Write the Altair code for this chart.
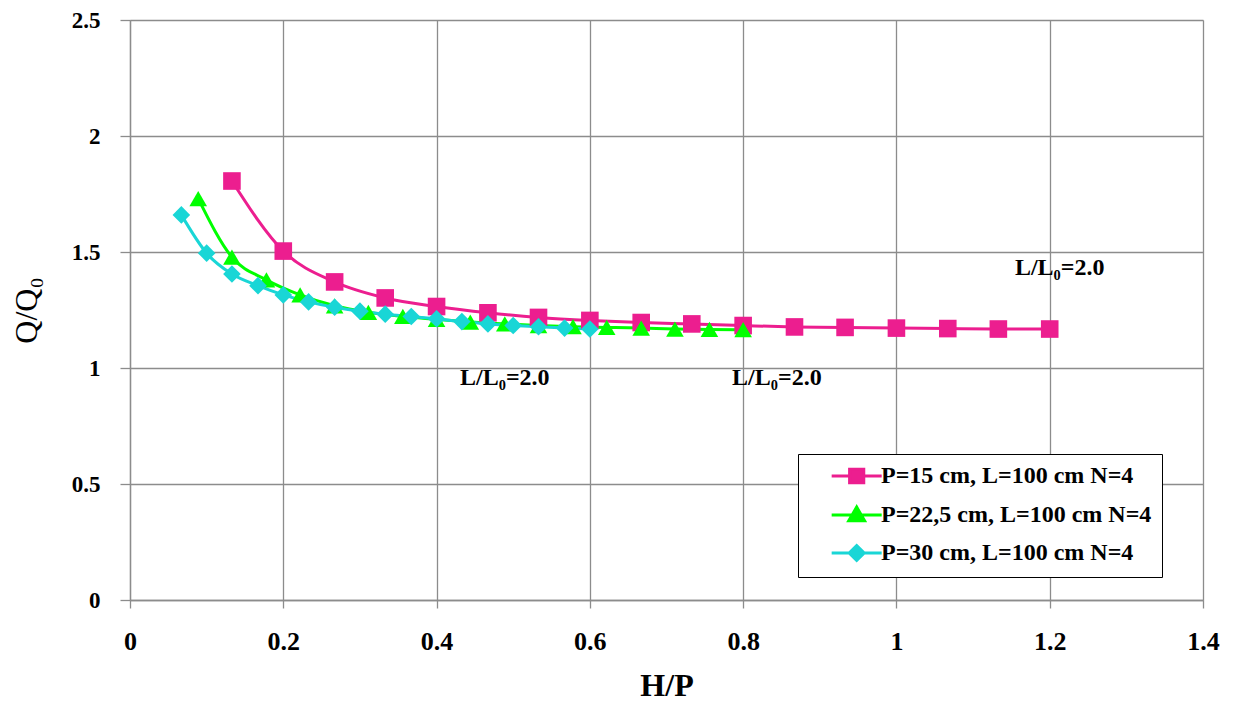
import altair as alt
import pandas as pd

series_names = ["P=15 cm, L=100 cm N=4", "P=22,5 cm, L=100 cm N=4", "P=30 cm, L=100 cm N=4"]
colors = ["#EC1E8F", "#00FF00", "#19D6D6"]
shapes = ["square", "triangle-up", "diamond"]

hp_15 = [0.133, 0.2, 0.267, 0.333, 0.4, 0.467, 0.533, 0.6, 0.667, 0.733, 0.8, 0.867, 0.933, 1.0, 1.067, 1.133, 1.2]
q_15 = [1.806, 1.504, 1.371, 1.302, 1.265, 1.238, 1.218, 1.205, 1.196, 1.19, 1.183, 1.177, 1.175, 1.172, 1.17, 1.168, 1.168]

hp_225 = [0.089, 0.133, 0.178, 0.222, 0.267, 0.311, 0.356, 0.4, 0.444, 0.489, 0.533, 0.578, 0.622, 0.667, 0.711, 0.756, 0.8]
q_225 = [1.73, 1.478, 1.38, 1.315, 1.268, 1.24, 1.222, 1.21, 1.198, 1.19, 1.183, 1.178, 1.175, 1.172, 1.168, 1.166, 1.165]

hp_30 = [0.067, 0.1, 0.133, 0.167, 0.2, 0.233, 0.267, 0.3, 0.333, 0.367, 0.4, 0.433, 0.467, 0.5, 0.533, 0.567, 0.6]
q_30 = [1.66, 1.495, 1.405, 1.355, 1.315, 1.285, 1.262, 1.245, 1.232, 1.222, 1.212, 1.2, 1.19, 1.183, 1.178, 1.172, 1.168]

note_text = ["L/L₀=2.0", "L/L₀=2.0", "L/L₀=2.0"]
note_x = [0.489, 0.844, 1.213]
note_y = [0.957, 0.957, 1.431]

x_ticks = [0, 0.2, 0.4, 0.6, 0.8, 1.0, 1.2, 1.4]
y_ticks = [0, 0.5, 1, 1.5, 2, 2.5]

rows = []
for name, xs, ys in zip(series_names, [hp_15, hp_225, hp_30], [q_15, q_225, q_30]):
    for xv, yv in zip(xs, ys):
        rows.append({"series": name, "hp": xv, "q": yv})
df = pd.DataFrame(rows)
notes = pd.DataFrame({"label": note_text, "hp": note_x, "q": note_y})

FONT = "Liberation Serif"
GRID = "#8c8c8c"

xenc = alt.X("hp:Q", scale=alt.Scale(domain=[0, 1.4], nice=False),
             axis=alt.Axis(values=x_ticks, format="~g", title="H/P", grid=True,
                           gridColor=GRID, gridWidth=1.3, domainColor=GRID, domainWidth=1.3,
                           tickColor=GRID, tickSize=8, tickWidth=1.3,
                           labelFont=FONT, labelFontWeight="bold", labelFontSize=26,
                           labelColor="black", labelPadding=20, labelFlush=False,
                           titleFont=FONT, titleFontWeight="bold", titleFontSize=32,
                           titleColor="black", titlePadding=16))
yenc = alt.Y("q:Q", scale=alt.Scale(domain=[0, 2.5], nice=False),
             axis=alt.Axis(values=y_ticks, format="~g", title="Q/Q₀", grid=True,
                           gridColor=GRID, gridWidth=1.3, domainColor=GRID, domainWidth=1.3,
                           tickColor=GRID, tickSize=10, tickWidth=1.3,
                           labelFont=FONT, labelFontWeight="bold", labelFontSize=23,
                           labelColor="black", labelPadding=20, labelFlush=False,
                           titleFont=FONT, titleFontWeight="normal", titleFontSize=32,
                           titleColor="black", titlePadding=28))

layers = []
for name, col, shp in zip(series_names, colors, shapes):
    sub = df[df["series"] == name]
    layers.append(alt.Chart(sub).mark_line(interpolate="monotone", strokeWidth=3, color=col)
                  .encode(x=xenc, y=yenc))
for name, col, shp in zip(series_names, colors, shapes):
    sub = df[df["series"] == name]
    layers.append(alt.Chart(sub).mark_point(filled=True, opacity=1, size=310, color=col, shape=shp)
                  .encode(x=xenc, y=yenc))

leg_paths = [
    "M-1,0H5M1.15,-0.8H2.85V0.8H1.15Z",
    "M-1,0H5M2,-0.95L2.95,0.7H1.05Z",
    "M-1,0H5M2,-0.9L2.9,0L2,0.9L1.1,0Z",
]
leg = alt.Legend(orient="none", legendX=668, legendY=434, padding=10, symbolOffset=20,
                 labelOffset=29, symbolSize=278, symbolStrokeWidth=3, rowPadding=12,
                 labelFont=FONT, labelFontWeight="bold", labelFontSize=24, labelColor="black",
                 strokeColor="black", fillColor="white", labelLimit=400)
legend_layer = alt.Chart(df).transform_filter("datum.q < 0").mark_point(
    size=278, strokeWidth=3, opacity=1, fillOpacity=1, strokeOpacity=1).encode(
    x=xenc, y=yenc,
    fill=alt.Fill("series:N", scale=alt.Scale(domain=series_names, range=colors), legend=leg, title=None),
    stroke=alt.Stroke("series:N", scale=alt.Scale(domain=series_names, range=colors), legend=leg, title=None),
    shape=alt.Shape("series:N", scale=alt.Scale(domain=series_names, range=leg_paths), legend=leg, title=None),
)
layers.append(legend_layer)

text = alt.Chart(notes).mark_text(font=FONT, fontWeight="bold", fontSize=24, color="black").encode(
    x=xenc, y=yenc, text="label:N")
layers.append(text)

chart = alt.layer(*layers).properties(
    width=1073, height=580,
    autosize=alt.AutoSizeParams(type="none"),
    padding={"left": 122, "top": 12, "right": 32, "bottom": 103},
).configure_view(stroke=GRID, strokeWidth=1.3).configure(background="white")

chart.save("out.html", embed_options={"renderer": "svg", "actions": False})
